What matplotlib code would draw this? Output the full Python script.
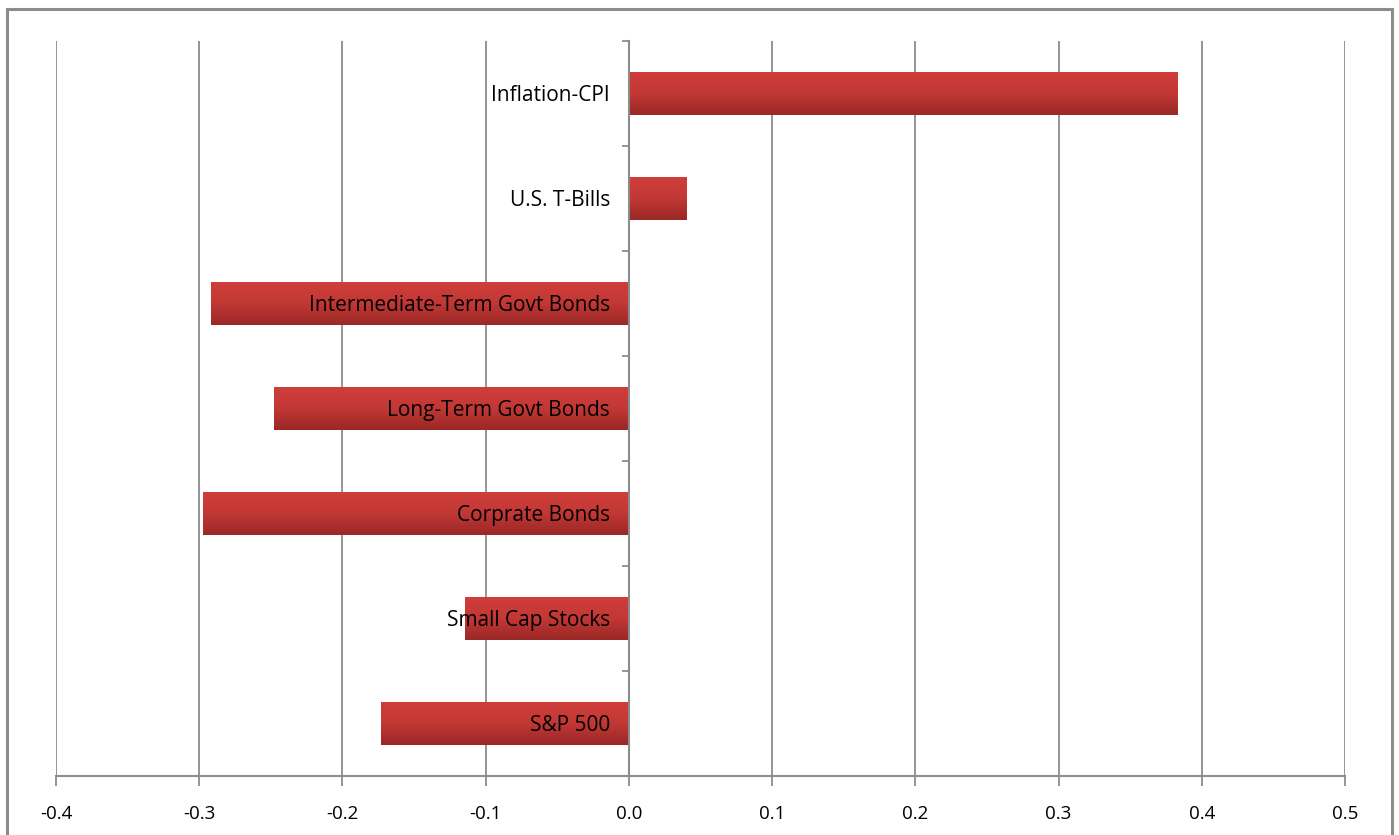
import numpy as np
import matplotlib.pyplot as plt
from matplotlib.colors import LinearSegmentedColormap
from matplotlib.patches import Rectangle

# categories from bottom to top
categories = ["S&P 500", "Small Cap Stocks", "Corprate Bonds", "Long-Term Govt Bonds",
              "Intermediate-Term Govt Bonds", "U.S. T-Bills", "Inflation-CPI"]
values = [-0.173, -0.1145, -0.2975, -0.248, -0.292, 0.040, 0.383]
xticks = [-0.4, -0.3, -0.2, -0.1, 0.0, 0.1, 0.2, 0.3, 0.4, 0.5]

plt.rcParams['font.family'] = ['Open Sans', 'DejaVu Sans']
grey = '#8c8c8c'

fig = plt.figure(figsize=(13.99, 8.35), dpi=100)
ax = fig.add_axes([56/1399, 59/835, 1289/1399, 735/835])

# outer chart border
fig.patches.append(Rectangle((7/1399, -0.05), 1385/1399, (826/835) + 0.05,
                             transform=fig.transFigure, fill=False,
                             edgecolor=grey, linewidth=2.2))

y = np.arange(len(categories))
bars = ax.barh(y, values, height=0.41, color='#c03633', zorder=2)

# vertical gradient on each bar (light top, dark bottom)
cmap = LinearSegmentedColormap.from_list('redgrad', ['#9a2826', '#c23835', '#d03e3b'])
grad = np.linspace(0, 1, 100).reshape(-1, 1)
for b in bars:
    x0, y0, w, h = b.get_x(), b.get_y(), b.get_width(), b.get_height()
    im = ax.imshow(grad, cmap=cmap, aspect='auto', origin='lower',
                   extent=[x0, x0 + w, y0, y0 + h], zorder=3)
    im.set_clip_path(b)

# category labels sit just left of the zero axis, over the bars
for yi, cat in zip(y, categories):
    ax.annotate(cat, xy=(0, yi), xytext=(-19, -2), textcoords='offset pixels',
                ha='right', va='center', fontsize=15, color='black', zorder=6)

ax.set_xlim(-0.4, 0.5)
ax.set_ylim(-0.5, len(categories) - 0.5)

ax.set_xticks(xticks)
ax.set_xticklabels([f"{t:.1f}" for t in xticks], fontsize=13.5)
ax.set_yticks(np.arange(len(categories) + 1) - 0.5)
ax.set_yticklabels([])

ax.grid(axis='x', color=grey, linewidth=1.3, zorder=0)
ax.set_axisbelow(True)

for s in ['top', 'right']:
    ax.spines[s].set_visible(False)
ax.spines['left'].set_position(('data', 0))
ax.spines['left'].set_zorder(5)
for s in ['left', 'bottom']:
    ax.spines[s].set_color(grey)
    ax.spines[s].set_linewidth(1.5)

ax.tick_params(axis='y', length=5, color=grey, width=1.3, direction='out')
ax.tick_params(axis='x', length=7, color=grey, width=1.3, pad=14)

fig.savefig('out.png', dpi=100)
